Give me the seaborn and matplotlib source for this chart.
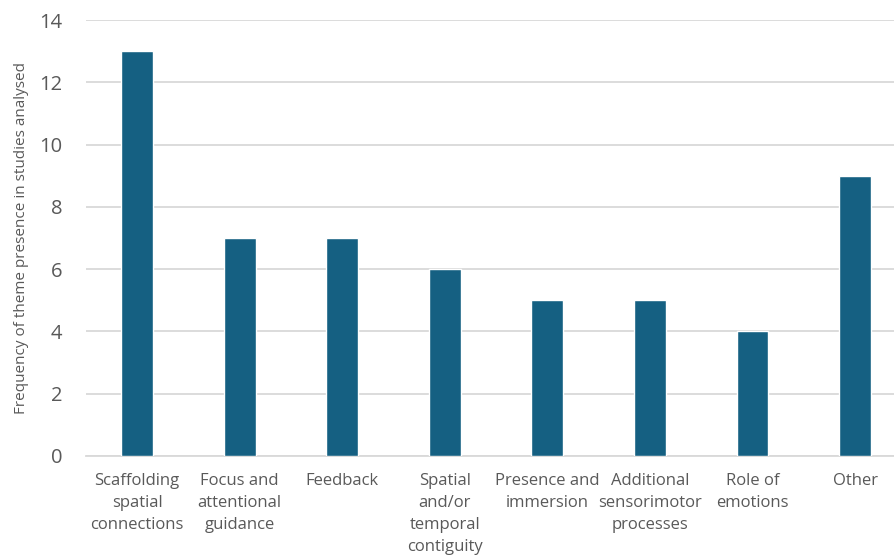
import matplotlib
matplotlib.use("Agg")
import matplotlib.pyplot as plt
import seaborn as sns
import pandas as pd

categories = ["Scaffolding\nspatial\nconnections", "Focus and\nattentional\nguidance", "Feedback",
              "Spatial\nand/or\ntemporal\ncontiguity", "Presence and\nimmersion",
              "Additional\nsensorimotor\nprocesses", "Role of\nemotions", "Other"]
values = [13, 7, 7, 6, 5, 5, 4, 9]
y_ticks = [0, 2, 4, 6, 8, 10, 12, 14]

sns.set_theme(style="white")
plt.rcParams['font.family'] = ['Open Sans', 'DejaVu Sans']

df = pd.DataFrame({"cat": categories, "val": values})

fig = plt.figure(figsize=(8.95, 5.58), dpi=100)
ax = fig.add_axes([0.096, 0.183, 0.904, 0.781])
sns.barplot(data=df, x="cat", y="val", color="#156082", width=0.31, saturation=1, ax=ax, zorder=3)

ax.set_ylim(0, 14)
ax.set_yticks(y_ticks)
ax.set_xlim(-0.5, 7.39)
ax.yaxis.grid(True, color="#d9d9d9", linewidth=1.3, zorder=0)
ax.set_axisbelow(True)
for s in ["top", "right", "left"]:
    ax.spines[s].set_visible(False)
ax.spines["bottom"].set_color("#d9d9d9")
ax.spines["bottom"].set_linewidth(1.3)
ax.tick_params(axis="y", labelsize=14.5, colors="#595959", length=0, pad=17)
ax.tick_params(axis="x", labelsize=12, colors="#595959", length=0, pad=12)
for lbl in ax.get_xticklabels():
    lbl.set_linespacing(1.5)
ax.set_xlabel("")
ax.set_ylabel("Frequency of theme presence in studies analysed", fontsize=11, color="#595959", labelpad=7)

fig.savefig("out.png", dpi=100)
